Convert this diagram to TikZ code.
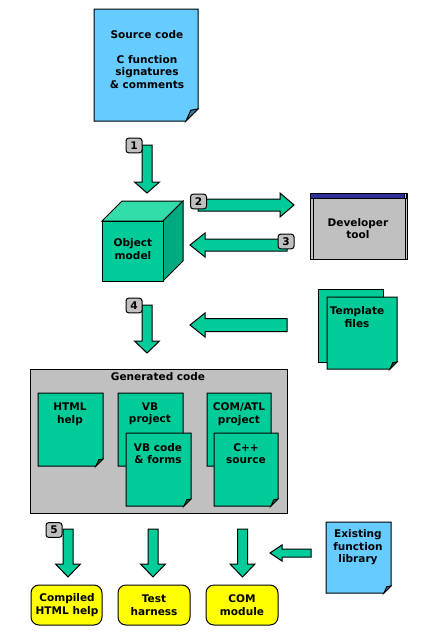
\documentclass[tikz,border=0pt]{standalone}
\usepackage{fontspec}
\setmainfont{DejaVu Sans}
\definecolor{lblue}{HTML}{66CCFF}
\definecolor{mgreen}{HTML}{00CC99}
\definecolor{tgreen}{HTML}{33DDAA}
\definecolor{dgreen}{HTML}{00AA80}
\definecolor{lgray}{HTML}{C0C0C0}
\definecolor{myyellow}{HTML}{FFFF00}
\definecolor{titlenavy}{HTML}{30309A}
\newcommand\pagedoc[6]{%
  \filldraw[fill=#5] (#1,#2) -- (#3,#2) -- (#3,#4-#6) -- (#3-#6,#4) -- (#1,#4) -- cycle;
  \filldraw[fill=#5!60!black] (#3-#6,#4) -- (#3-0.6*#6,#4-0.9*#6) -- (#3,#4-#6) -- cycle;}
\newcommand\downblock[4]{%
  \filldraw[fill=mgreen] (#1-5,#2) -- (#1+5,#2) -- (#1+5,#3) -- (#1+12.5,#3) -- (#1,#4) -- (#1-12.5,#3) -- (#1-5,#3) -- cycle;}
\newcommand\leftblock[6]{% tip headback cy headhalf shafthalf end
  \filldraw[fill=mgreen] (#1,#3) -- (#2,#3-#4) -- (#2,#3-#5) -- (#6,#3-#5) -- (#6,#3+#5) -- (#2,#3+#5) -- (#2,#3+#4) -- cycle;}
\newcommand\rightblock[6]{% tip headback cy headhalf shafthalf start
  \filldraw[fill=mgreen] (#1,#3) -- (#2,#3-#4) -- (#2,#3-#5) -- (#6,#3-#5) -- (#6,#3+#5) -- (#2,#3+#5) -- (#2,#3+#4) -- cycle;}
\begin{document}
\begin{tikzpicture}[x=0.75pt,y=-0.75pt,line width=0.75pt,line join=miter,
  txt/.style={align=center,inner sep=0pt,font=\fontsize{7.9}{9.4}\selectfont\bfseries},
  numbox/.style={draw,fill=lgray,rounded corners=2pt,minimum width=12pt,minimum height=11pt,inner sep=0pt,font=\fontsize{7.9}{9.4}\selectfont\bfseries},
  result/.style={draw,fill=myyellow,rounded corners=6pt}]
\useasboundingbox (0,0) rectangle (431,640);
\fill[white] (0,0) rectangle (431,640);

% Source code
\pagedoc{94}{9}{198}{121}{lblue}{12}
\node[txt] (src) at (147,59.5) {Source code\\[9.4pt]C function\\signatures\\\& comments};

% arrow 1
\downblock{147}{145}{182}{193}
\node[numbox] (n1) at (134,145.5) {1};

% cube
\filldraw[fill=tgreen] (102,221) -- (122,201) -- (183,201) -- (163,221) -- cycle;
\filldraw[fill=dgreen] (163,221) -- (183,201) -- (183,261) -- (163,281) -- cycle;
\filldraw[fill=mgreen] (102,221) rectangle (163,281);
\node[txt] (obj) at (133,249) {Object\\model};

% arrow 2
\rightblock{294}{280}{205}{12}{6}{198}
\node[numbox] (n2) at (198.5,201.5) {2};
% arrow 3
\leftblock{190}{205}{245}{12}{6}{287}
\node[numbox] (n3) at (286,241.5) {3};

% developer tool
\filldraw[fill=lgray] (310,193) rectangle (407,259);
\fill[titlenavy] (310.5,193.5) rectangle (404,198);
\filldraw[fill=lgray,line width=0.5pt] (404,193.5) rectangle (406.5,198);
\draw (310,198) -- (407,198);
\draw (313,198) -- (313,259);
\draw (405,198) -- (405,259);
\node[txt] (dev) at (358,228.5) {Developer\\tool};

% arrow 4
\downblock{147}{305}{341}{353}
\node[numbox] (n4) at (134,305.5) {4};

% template arrow
\leftblock{190}{205}{325}{12}{6.5}{287}

% template files
\filldraw[fill=mgreen] (318,289) rectangle (383,362);
\pagedoc{327}{297}{397}{369}{mgreen}{7}
\node[txt] (tpl) at (357,317) {Template\\files};

% generated code
\filldraw[fill=lgray] (30,369) rectangle (287,513);
\node[txt] (gen) at (158,377) {Generated code};
\pagedoc{38}{393}{103}{466}{mgreen}{7}
\node[txt] (html) at (70,414) {HTML\\help};
\pagedoc{118}{393}{183}{466}{mgreen}{7}
\node[txt] (vbp) at (150,414) {VB\\project};
\pagedoc{126}{433}{191}{506}{mgreen}{7}
\node[txt] (vbc) at (158,453.5) {VB code\\\& forms};
\pagedoc{207}{393}{271}{466}{mgreen}{7}
\node[txt] (com) at (239,414) {COM/ATL\\project};
\pagedoc{214}{433}{278}{506}{mgreen}{7}
\node[txt] (cpp) at (246,453.5) {C++\\source};

% bottom arrows
\downblock{68}{529}{564}{577}
\node[numbox] (n5) at (54,530) {5};
\downblock{153}{529}{564}{577}
\downblock{242.5}{529}{564}{577}
\leftblock{270}{282}{553}{8}{4}{311}

% existing library
\pagedoc{326}{522}{391}{593}{lblue}{7}
\node[txt] (lib) at (358,547.5) {Existing\\function\\library};

% results
\filldraw[result] (31,585) rectangle (102,625);
\node[txt] (chm) at (67,605) {Compiled\\HTML help};
\filldraw[result] (118,585) rectangle (190,625);
\node[txt] (th) at (154,605) {Test\\harness};
\filldraw[result] (206,585) rectangle (278,625);
\node[txt] (cm) at (242,605) {COM\\module};
\end{tikzpicture}
\end{document}
